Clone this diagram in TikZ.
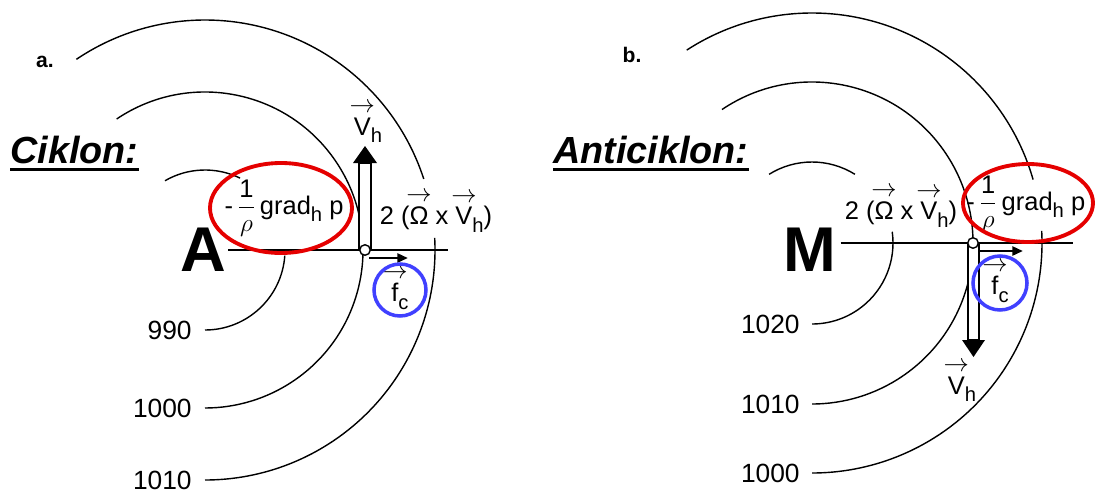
\documentclass[tikz,border=0pt]{standalone}
\usepackage{fontspec}
\usepackage{amsmath}
\setmainfont{Liberation Sans}
\usetikzlibrary{arrows.meta}

\newcommand{\vect}[1]{\ensuremath{\overset{\makebox[0pt]{$\rightarrow$}}{\text{#1}}}}
\newcommand{\sub}[1]{\raisebox{-0.55ex}{\fontsize{11.5}{12}\selectfont #1}}
\newcommand{\invrho}{\ensuremath{\dfrac{\text{1}}{\rho}}}

\begin{document}
\begin{tikzpicture}[
    x=0.02cm, y=0.02cm,
    isobar/.style={line width=0.8pt, draw=black},
    isolabel/.style={font=\fontsize{15}{17}\selectfont, anchor=east, inner sep=0pt},
    lowmark/.style={font=\fontsize{36}{40}\selectfont\bfseries, inner sep=0pt},
    title/.style={font=\fontsize{21.5}{24}\selectfont\bfseries\itshape, anchor=west, inner sep=0pt},
    tag/.style={font=\fontsize{12}{14}\selectfont\bfseries, inner sep=0pt},
    term/.style={font=\fontsize{14.5}{16}\selectfont, inner sep=0pt},
    redring/.style={draw=red!90!black, line width=2.2pt},
    bluering/.style={draw=blue!75, line width=2pt},
    force/.style={-{Triangle[length=6pt,width=5pt]}, line width=1.6pt},
    shaft/.style={draw=black, fill=white, line width=0.9pt},
    joint/.style={circle, draw=black, fill=white, line width=0.8pt, minimum size=6pt, inner sep=0pt}
  ]
  \useasboundingbox (0,0) rectangle (1095,495);

  \node[tag] (tagA) at (45,433) {a.};
  \node[title] (ciklon) at (10,345) {Ciklon:};
  \draw[line width=1.8pt] ([yshift=-3pt]ciklon.south west) -- ([yshift=-3pt]ciklon.south east);

  \coordinate (lowC) at (205,245);
  \draw[isobar] (lowC) ++(120:80) arc[start angle=120, end angle=64, radius=80];
  \draw[isobar] (lowC) ++(-4:80) arc[start angle=-4, end angle=-90, radius=80];
  \draw[isobar] (lowC) ++(124:158) arc[start angle=124, end angle=-90, radius=158];
  \draw[isobar] (lowC) ++(124:230) arc[start angle=124, end angle=18, radius=230];
  \draw[isobar] (lowC) ++(3:230) arc[start angle=3, end angle=-90, radius=230];

  \node[isolabel] (p990) at (192,165) {990};
  \node[isolabel] (p1000a) at (192,87) {1000};
  \node[isolabel] (p1010a) at (192,15) {1010};

  \node[lowmark] (lowA) at (203,245) {A};
  \coordinate (axisA) at (448,245);
  \draw[isobar] (lowA.east) ++(2,0) -- (axisA);

  \draw[shaft] (359,245) rectangle (371,332);
  \fill (353,332) -- (365,349) -- (377,332) -- cycle;
  \node[joint] (jointA) at (365,245) {};
  \draw[force] (369,237) -- (408,237);

  \node[term] (vA) at (368,373) {\vect{V}\sub{h}};
  \node[term] (corA) at (436,284) {2 (\vect{Ω} x \vect{V}\sub{h})};
  \node[term] (presA) at (284,287) {-\,\invrho\,grad\sub{h} p};
  \draw[redring] (281,287) ellipse[x radius=71, y radius=45];
  \node[term] (fA) at (400,207) {\vect{f}\sub{c}};
  \draw[bluering] (400,205) circle[radius=26];

  \node[tag] (tagB) at (632,440) {b.};
  \node[title] (anticiklon) at (553,345) {Anticiklon:};
  \draw[line width=1.8pt] ([yshift=-3pt]anticiklon.south west) -- ([yshift=-3pt]anticiklon.south east);

  \coordinate (highC) at (812,252);
  \draw[isobar] (highC) ++(122:81) arc[start angle=122, end angle=58, radius=81];
  \draw[isobar] (highC) ++(8:81) arc[start angle=8, end angle=-90, radius=81];
  \draw[isobar] (highC) ++(124:161) arc[start angle=124, end angle=-90, radius=161];
  \draw[isobar] (highC) ++(123:230) arc[start angle=123, end angle=16, radius=230];
  \draw[isobar] (highC) ++(3:230) arc[start angle=3, end angle=-90, radius=230];

  \node[isolabel] (p1020) at (800,171) {1020};
  \node[isolabel] (p1010b) at (800,91) {1010};
  \node[isolabel] (p1000b) at (800,22) {1000};

  \node[lowmark] (highM) at (810,245) {M};
  \coordinate (axisB) at (1073,252);
  \draw[isobar] (highM.east) ++(4,7) -- (axisB);

  \draw[shaft] (968,252) rectangle (979,155);
  \fill (962,155) -- (973.5,138) -- (985,155) -- cycle;
  \node[joint] (jointB) at (973,252) {};
  \draw[force] (979,244) -- (1023,244);

  \node[term] (vB) at (962,114) {\vect{V}\sub{h}};
  \node[term] (corB) at (901,289) {2 (\vect{Ω} x \vect{V}\sub{h})};
  \node[term, anchor=west] (presB) at (966,291) {-\,\invrho\,grad\sub{h} p};
  \draw[redring] (1028,292) ellipse[x radius=65, y radius=39];
  \node[term] (fB) at (1000,214) {\vect{f}\sub{c}};
  \draw[bluering] (1000,212) circle[radius=27];
\end{tikzpicture}
\end{document}
